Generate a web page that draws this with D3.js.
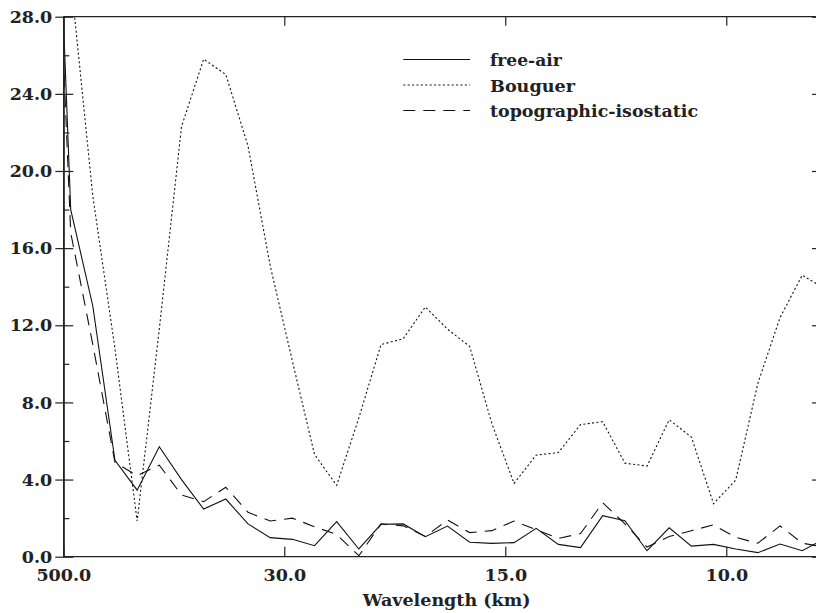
<!DOCTYPE html>
<html>
<head>
<meta charset="utf-8">
<script src="https://cdn.jsdelivr.net/npm/d3@7/dist/d3.min.js"></script>
<style>
  html, body { margin: 0; padding: 0; background: #fff; }
  svg { display: block; }
  text { font-family: "DejaVu Serif", serif; font-weight: bold; fill: #222; }
</style>
</head>
<body>
<svg id="chart" width="816" height="613"></svg>
<script>
// ---- data ----
// wavenumber of each spectral sample, cycles per km
const wavenumber = [0, 0.00112, 0.00445, 0.00779, 0.01114, 0.01448, 0.01783, 0.02117, 0.02451, 0.02786,
  0.03120, 0.03455, 0.03789, 0.04123, 0.04458, 0.04792, 0.05127, 0.05461, 0.05795, 0.06130,
  0.06464, 0.06799, 0.07133, 0.07467, 0.07802, 0.08136, 0.08471, 0.08805, 0.09139, 0.09474,
  0.09808, 0.10143, 0.10477, 0.10811, 0.11146, 0.11480];
const freeAir = [28.0, 18.0, 13.0, 5.0, 3.45, 5.7, 4.0, 2.47, 2.99, 1.70,
  0.99, 0.90, 0.57, 1.82, 0.40, 1.68, 1.70, 1.04, 1.59, 0.75,
  0.69, 0.73, 1.47, 0.64, 0.47, 2.13, 1.87, 0.31, 1.50, 0.55,
  0.64, 0.40, 0.21, 0.66, 0.31, 0.92];
const bouguer = [35.0, 30.0, 18.7, 10.8, 1.85, 11.8, 22.3, 25.8, 25.0, 21.3,
  15.1, 10.15, 5.3, 3.7, 7.2, 11.0, 11.3, 12.95, 11.8, 10.9,
  6.9, 3.8, 5.27, 5.4, 6.85, 7.0, 4.85, 4.7, 7.1, 6.2,
  2.75, 3.98, 9.0, 12.4, 14.6, 13.9];
const topoIso = [26.0, 16.8, 11.0, 4.9, 4.2, 4.75, 3.2, 2.85, 3.6, 2.3,
  1.85, 2.0, 1.55, 1.15, 0.05, 1.7, 1.6, 1.05, 1.9, 1.25,
  1.35, 1.85, 1.4, 0.95, 1.2, 2.8, 1.7, 0.5, 1.05, 1.35,
  1.65, 1.0, 0.7, 1.6, 0.7, 0.5];
const seriesNames = ["free-air", "Bouguer", "topographic-isostatic"];
// x ticks: position (wavenumber) and label (wavelength, km)
const xTickValues = [0, 1 / 30, 1 / 15, 1 / 10];
const xTickLabels = ["500.0", "30.0", "15.0", "10.0"];
const yMajorTicks = [0, 4, 8, 12, 16, 20, 24, 28];
const yMinorTicks = [2, 6, 10, 14, 18, 22, 26];
const xTitle = "Wavelength (km)";

(function () {
  const svg = d3.select("#chart");
  const pL = 63.3, pR = 820, pT = 16.7, pB = 556.7;
  const x = d3.scaleLinear().domain([0, 0.1137]).range([pL, 817.1]);
  const y = d3.scaleLinear().domain([0, 28]).range([pB, pT]);
  const axisColor = "#222";

  svg.append("defs").append("clipPath").attr("id", "plotclip")
    .append("rect").attr("x", pL).attr("y", pT).attr("width", pR - pL).attr("height", pB - pT);

  const dashes = [null, "2,2.4", "12,8"];
  const data = [freeAir, bouguer, topoIso];

  const line = d3.line().x((d, i) => x(wavenumber[i])).y(d => y(d));
  const g = svg.append("g").attr("clip-path", "url(#plotclip)");
  data.forEach((s, j) => {
    g.append("path").datum(s)
      .attr("d", line)
      .attr("fill", "none")
      .attr("stroke", "#111")
      .attr("stroke-width", 1.1)
      .attr("stroke-dasharray", dashes[j]);
  });

  function styleAxis(sel) {
    sel.selectAll("path.domain").attr("stroke", axisColor).attr("stroke-width", 1.3);
    sel.selectAll(".tick line").attr("stroke", axisColor).attr("stroke-width", 1.2);
    sel.selectAll(".tick text").attr("font-size", 17.5).attr("font-family", "DejaVu Serif").attr("fill", "#222");
  }

  const yFmt = d3.format(".1f");
  svg.append("g").attr("transform", `translate(${pL},0)`)
    .call(d3.axisLeft(y).tickValues(yMajorTicks).tickFormat(yFmt).tickSize(8).tickPadding(3).tickSizeOuter(0))
    .call(styleAxis);
  svg.append("g").attr("transform", `translate(${pL},0)`)
    .call(d3.axisRight(y).tickValues(yMajorTicks).tickFormat("").tickSize(10).tickSizeOuter(0))
    .call(styleAxis);
  svg.append("g").attr("transform", `translate(${pL},0)`)
    .call(d3.axisRight(y).tickValues(yMinorTicks).tickFormat("").tickSize(6).tickSizeOuter(0))
    .call(styleAxis);
  svg.append("g").attr("transform", `translate(${pR},0)`)
    .call(d3.axisLeft(y).tickValues(yMajorTicks).tickFormat("").tickSize(8).tickSizeOuter(0))
    .call(styleAxis);

  svg.append("g").attr("transform", `translate(0,${pB})`)
    .call(d3.axisBottom(x).tickValues(xTickValues).tickFormat((d, i) => xTickLabels[i]).tickSize(-10).tickPadding(12).tickSizeOuter(0))
    .call(styleAxis)
    .call(s => s.select("path.domain").attr("d", `M${pL},0H${pR}`));
  svg.append("g").attr("transform", `translate(0,${pT})`)
    .call(d3.axisTop(x).tickValues(xTickValues).tickFormat("").tickSize(-9).tickSizeOuter(0))
    .call(styleAxis)
    .call(s => s.select("path.domain").attr("d", `M${pL},0H${pR}`));

  svg.append("text").attr("x", (360 + 533.3) / 2).attr("y", 606)
    .attr("text-anchor", "middle").attr("font-size", 17.5)
    .text(xTitle);

  const legX0 = 403.3, legX1 = 470, legTextX = 490;
  const legRowsY = [59.5, 85, 110.5];
  const legTextLen = [71.7, 85, 208];
  seriesNames.forEach((name, j) => {
    const yy = legRowsY[j];
    svg.append("line").attr("x1", legX0).attr("x2", legX1).attr("y1", yy).attr("y2", yy)
      .attr("stroke", "#111").attr("stroke-width", 1.1).attr("stroke-dasharray", dashes[j]);
    svg.append("text").attr("x", legTextX).attr("y", yy + 6.5)
      .attr("font-size", 17.5)
      .attr("textLength", legTextLen[j]).attr("lengthAdjust", "spacingAndGlyphs")
      .text(name);
  });
})();
</script>
</body>
</html>
